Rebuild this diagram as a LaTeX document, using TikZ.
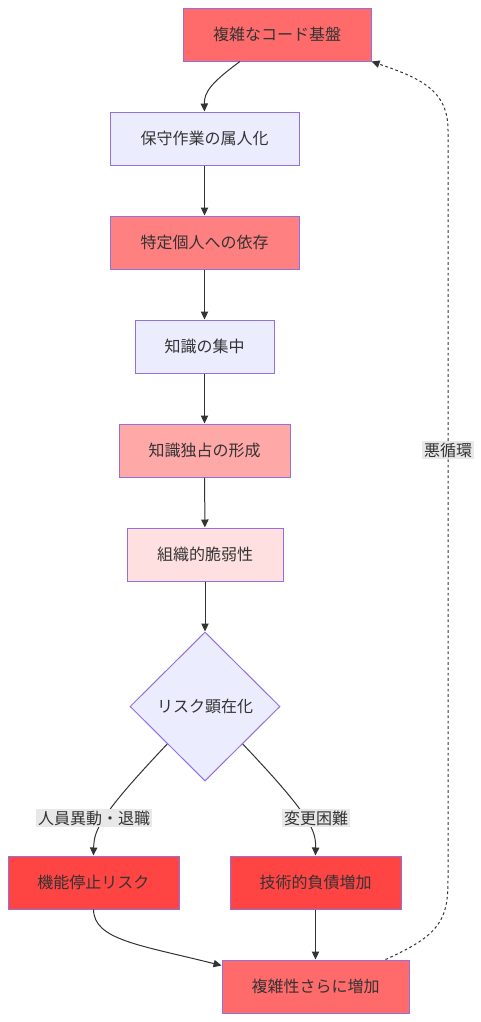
\documentclass[tikz,border=0pt]{standalone}
\usepackage{fontspec}
\setmainfont{Noto Sans CJK JP}
\usetikzlibrary{arrows.meta,calc,shapes.geometric}
\definecolor{mmtext}{HTML}{333333}
\definecolor{mmline}{HTML}{333333}
\definecolor{mmborder}{HTML}{9370DB}
\definecolor{lavfill}{HTML}{ECECFF}
\definecolor{redcore}{HTML}{FF6B6B}
\definecolor{redmid}{HTML}{FF8080}
\definecolor{redlight}{HTML}{FFA8A8}
\definecolor{redpale}{HTML}{FFE0E0}
\definecolor{reddeep}{HTML}{FF4444}
\definecolor{lblgray}{HTML}{E8E8E8}

\begin{document}
\begin{tikzpicture}[x=0.75pt,y=-0.75pt,
  box/.style={draw=mmborder,line width=0.75pt,minimum height=39.75pt,inner sep=0pt,
    text=mmtext,font=\fontsize{12}{14}\selectfont},
  flow/.style={mmline,line width=0.75pt,-{Triangle[length=6pt,width=5.5pt]}},
  lbl/.style={fill=lblgray,text=mmtext,inner sep=1.5pt,font=\fontsize{12}{14}\selectfont}]

\useasboundingbox (0,0) rectangle (481,1022);

% === Main chain ===
\node[box,fill=redcore,minimum width=141pt] (code) at (277,34.5) {複雑なコード基盤};
\node[box,fill=lavfill,minimum width=141.75pt] (maint) at (204.5,138.5) {保守作業の属人化};
\node[box,fill=redmid,minimum width=141.75pt] (depend) at (204.5,242.5) {特定個人への依存};
\node[box,fill=lavfill,minimum width=104.25pt] (concen) at (204.5,346.5) {知識の集中};
\node[box,fill=redlight,minimum width=128.25pt] (monopoly) at (204.5,450.5) {知識独占の形成};
\node[box,fill=redpale,minimum width=117pt] (fragile) at (205,554.5) {組織的脆弱性};

% Decision diamond
\node[diamond,aspect=1,draw=mmborder,fill=lavfill,line width=0.75pt,minimum width=112.5pt,
  minimum height=111.75pt,inner sep=0pt,text=mmtext,font=\fontsize{12}{14}\selectfont]
  (risk) at (205,706.5) {リスク顕在化};

% === Consequences ===
\node[box,fill=reddeep,minimum width=128.25pt] (stop) at (93.5,882.5) {機能停止リスク};
\node[box,fill=reddeep,minimum width=128.25pt] (debt) at (315.5,882.5) {技術的負債増加};
\node[box,fill=redcore,minimum width=140.25pt] (more) at (315.5,986.5) {複雑性さらに増加};

% === Connectors ===
\draw[flow] ($(code.south)+(-37,0)$) .. controls (212,82) and (204,92) .. (maint.north);
\draw[flow] (maint) -- (depend);
\draw[flow] (depend) -- (concen);
\draw[flow] (concen) -- (monopoly);
\draw[flow] (monopoly) -- (fragile);
\draw[flow] (fragile) -- (risk);

\draw[flow] ($(risk.south)!0.5!(risk.west)$) .. controls (100,815) and (94,830) .. (stop.north);
\draw[flow] ($(risk.south)!0.5!(risk.east)$) .. controls (310,815) and (316,830) .. (debt.north);

\draw[flow] (stop.south) .. controls (94,940) and (140,945) .. ($(more.north west)+(0,6)$);
\draw[flow] (debt) -- (more);

% Feedback loop (dotted)
\draw[flow,dash pattern=on 2pt off 2pt] ($(more.north east)+(-24,0)$)
  .. controls (440,935) and (448,920) .. (448,880) -- (448,130)
  .. controls (448,90) and (420,78) .. (code.south east);

% === Edge labels ===
\node[lbl] (staff) at (94,818) {人員異動・退職};
\node[lbl] (hard) at (316,818) {変更困難};
\node[lbl] (vicious) at (448,450) {悪循環};

\end{tikzpicture}
\end{document}
